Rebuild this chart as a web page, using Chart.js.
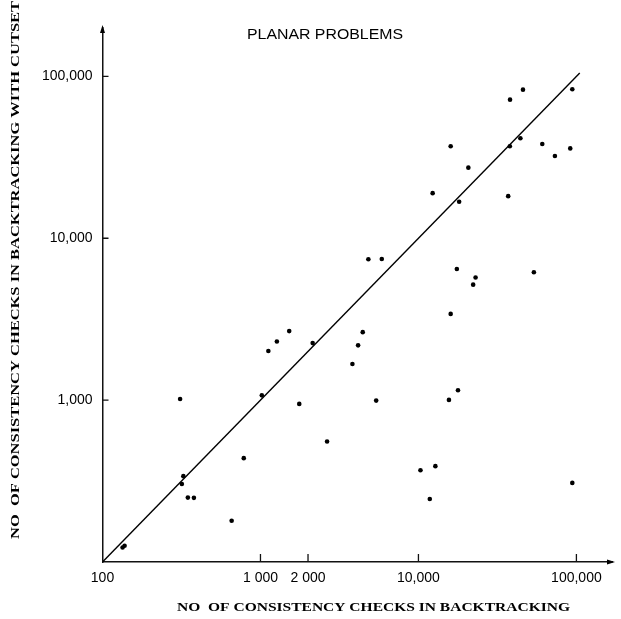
<!DOCTYPE html>
<html><head><meta charset="utf-8">
<script src="https://cdn.jsdelivr.net/npm/chart.js@4.4.0/dist/chart.umd.min.js"></script>
<style>html,body{margin:0;padding:0;background:#fff;overflow:hidden;}</style>
</head><body>
<canvas id="c" width="621" height="619"></canvas>
<script>
// Consistency checks: plain backtracking (x) vs backtracking with cutset (y)
const checksBacktracking = [45900, 38000, 94200, 16000, 37900, 44200, 60800, 73100, 91400, 20700, 12300, 18100, 37000, 4820, 5860, 17500, 23000, 22200, 53800, 16000, 1520, 1270, 1122, 2140, 4440, 4150, 3820, 1020, 310, 17800, 1760, 5400, 15600, 2640, 784, 10300, 12800, 94200, 325, 318, 347, 379, 11800, 657, 134, 138];
const checksWithCutset = [82800, 71800, 83200, 37000, 37000, 41500, 38200, 32200, 35900, 27300, 19000, 16800, 18200, 7420, 7450, 6460, 5720, 5170, 6160, 3410, 2670, 2300, 2010, 2250, 2630, 2180, 1670, 1070, 1016, 1150, 948, 993, 1003, 555, 438, 369, 391, 308, 339, 303, 250, 249, 245, 180, 123, 126];
const diagonalEnds = [100, 105000];
const xTickValues = [100, 1000, 2000, 10000, 100000];
const xTickLabels = ['100', '1 000', '2 000', '10,000', '100,000'];
const yTickValues = [1000, 10000, 100000];
const yTickLabels = ['1,000', '10,000', '100,000'];
const chartTitle = 'PLANAR PROBLEMS';
const xAxisTitle = 'NO  OF CONSISTENCY CHECKS IN BACKTRACKING';
const yAxisTitle = 'NO  OF CONSISTENCY CHECKS IN BACKTRACKING WITH CUTSET';

const sans = '"Liberation Sans", Arial, Helvetica, sans-serif';
const serif = '"Liberation Serif", "Times New Roman", serif';

function drawFitted(ctx, text, cx, cy, targetW, font) {
  ctx.font = font;
  const w = ctx.measureText(text).width;
  const sx = targetW / w;
  ctx.save();
  ctx.translate(cx, cy);
  ctx.scale(sx, 1);
  ctx.textAlign = 'center';
  ctx.textBaseline = 'middle';
  ctx.fillText(text, 0, 0);
  ctx.restore();
}

const decor = {
  id: 'decor',
  afterDraw(chart) {
    const ctx = chart.ctx, a = chart.chartArea;
    const xs = chart.scales.x, ys = chart.scales.y;
    ctx.save();
    ctx.fillStyle = '#000';
    ctx.strokeStyle = '#111';
    ctx.lineWidth = 1.3;
    // tick marks
    ctx.beginPath();
    xTickValues.slice(1).forEach(v => {
      const px = xs.getPixelForValue(v);
      ctx.moveTo(px, a.bottom); ctx.lineTo(px, a.bottom - 8);
    });
    yTickValues.forEach(v => {
      const py = ys.getPixelForValue(v);
      ctx.moveTo(a.left, py); ctx.lineTo(a.left + 6, py);
    });
    ctx.stroke();
    // arrowheads
    ctx.beginPath();
    ctx.moveTo(a.left, a.top - 3); ctx.lineTo(a.left - 2.5, a.top + 5); ctx.lineTo(a.left + 2.5, a.top + 5); ctx.closePath();
    ctx.fill();
    ctx.beginPath();
    ctx.moveTo(a.right + 3, a.bottom); ctx.lineTo(a.right - 5, a.bottom - 2.5); ctx.lineTo(a.right - 5, a.bottom + 2.5); ctx.closePath();
    ctx.fill();
    // titles
    drawFitted(ctx, chartTitle, 325, 35, 156, '14px ' + sans);
    drawFitted(ctx, xAxisTitle, 373.5, 608, 393, 'bold 12.5px ' + serif);
    ctx.save();
    ctx.translate(16, 270);
    ctx.rotate(-Math.PI / 2);
    drawFitted(ctx, yAxisTitle, 0, 0, 538, 'bold 12.5px ' + serif);
    ctx.restore();
    ctx.restore();
  }
};

new Chart(document.getElementById('c'), {
  type: 'scatter',
  data: {
    datasets: [
      {
        data: checksBacktracking.map((x, i) => ({ x: x, y: checksWithCutset[i] })),
        pointRadius: 2.3,
        pointBackgroundColor: '#000',
        pointBorderWidth: 0,
        showLine: false
      },
      {
        data: diagonalEnds.map(v => ({ x: v, y: v })),
        showLine: true,
        borderColor: '#000',
        borderWidth: 1.4,
        pointRadius: 0,
        fill: false
      }
    ]
  },
  options: {
    responsive: false,
    animation: false,
    devicePixelRatio: 1,
    layout: { padding: { left: 0, right: 9, top: 28, bottom: 0 } },
    plugins: { legend: { display: false }, tooltip: { enabled: false }, title: { display: false } },
    scales: {
      x: {
        type: 'logarithmic', min: 100, max: 168000, bounds: 'data',
        afterBuildTicks: s => { s.ticks = xTickValues.map(v => ({ value: v })); },
        afterFit: s => { s.height = 57; },
        grid: { display: false, drawTicks: false },
        border: { display: true, color: '#111', width: 1.5 },
        ticks: {
          autoSkip: false, maxRotation: 0, minRotation: 0, padding: 8, color: '#000',
          font: { family: sans, size: 14 },
          callback: (v, i) => xTickLabels[i]
        }
      },
      y: {
        type: 'logarithmic', min: 100, max: 199000, bounds: 'data',
        afterBuildTicks: s => { s.ticks = yTickValues.map(v => ({ value: v })); },
        afterFit: s => { s.width = 102.5; },
        grid: { display: false, drawTicks: false },
        border: { display: true, color: '#111', width: 1.5 },
        ticks: {
          autoSkip: false, padding: 10, color: '#000',
          font: { family: sans, size: 14 },
          callback: (v, i) => yTickLabels[i]
        }
      }
    }
  },
  plugins: [decor]
});
</script>
</body></html>
